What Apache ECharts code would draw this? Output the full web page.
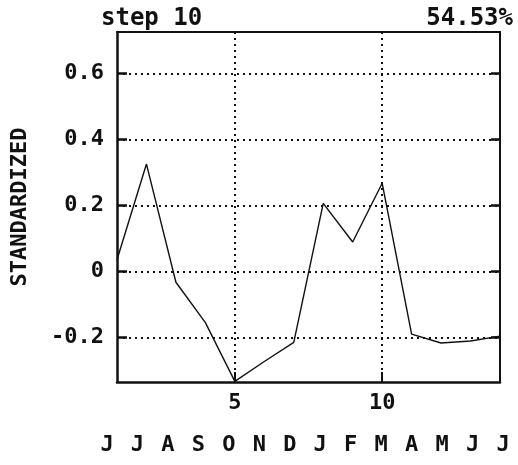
<!DOCTYPE html>
<html>
<head>
<meta charset="utf-8">
<script src="https://cdn.jsdelivr.net/npm/echarts@6/dist/echarts.min.js"></script>
<style>
  html, body { margin: 0; padding: 0; background: #fff; }
  #chart { width: 518px; height: 465px; }
</style>
</head>
<body>
<div id="chart"></div>
<script>
// Standardized series for one step, indexed by month position 1..14
const steps = [1, 2, 3, 4, 5, 6, 7, 8, 9, 10, 11, 12, 13, 14];
const values = [0.035, 0.325, -0.033, -0.155, -0.333, -0.273, -0.215, 0.206, 0.089, 0.267, -0.19, -0.217, -0.211, -0.196];
const months = ['J', 'J', 'A', 'S', 'O', 'N', 'D', 'J', 'F', 'M', 'A', 'M', 'J', 'J'];
const xTicks = [5, 10];
const yTicks = [-0.2, 0, 0.2, 0.4, 0.6];
const titleLeft = 'step 10';
const titleRight = '54.53%';
const yName = 'STANDARDIZED';

const FONT = '"DejaVu Sans Mono", "Liberation Mono", monospace';
const INK = '#111';

const chart = echarts.init(document.getElementById('chart'), null, { renderer: 'canvas' });

const frame = { show: true, onZero: false, lineStyle: { color: INK, width: 2.5 } };
const thinFrame = { show: true, onZero: false, lineStyle: { color: INK, width: 2 } };
const dotted = { show: true, lineStyle: { color: INK, width: 2, type: [2, 4] } };

chart.setOption({
  backgroundColor: '#fff',
  animation: false,
  title: [
    { text: titleLeft, left: 96, top: 2,
      textStyle: { fontFamily: FONT, fontSize: 24, fontWeight: 'bold', color: INK } },
    { text: titleRight, right: 0, top: 2,
      textStyle: { fontFamily: FONT, fontSize: 24, fontWeight: 'bold', color: INK } }
  ],
  grid: [
    { left: 117, right: 18, top: 32, bottom: 83 },
    { left: 107, right: 15, top: 420, height: 1 }
  ],
  xAxis: [
    {
      type: 'value', gridIndex: 0, position: 'bottom', min: 1, max: 14,
      axisLine: frame,
      axisTick: { show: true, inside: true, length: 10, customValues: xTicks,
                  lineStyle: { color: INK, width: 2 } },
      axisLabel: { customValues: xTicks, margin: 10,
                   fontFamily: FONT, fontSize: 22, fontWeight: 'bold', color: INK },
      splitLine: dotted
    },
    {
      type: 'value', gridIndex: 0, position: 'top', min: 1, max: 14,
      axisLine: thinFrame,
      axisTick: { show: false }, axisLabel: { show: false }, splitLine: { show: false }
    },
    {
      type: 'value', gridIndex: 1, min: 0, max: 13, interval: 1,
      axisLine: { show: false }, axisTick: { show: false }, splitLine: { show: false },
      axisLabel: { margin: 13, fontFamily: FONT, fontSize: 22, fontWeight: 'bold', color: INK,
                   formatter: v => months[v] || '' }
    }
  ],
  yAxis: [
    {
      type: 'value', gridIndex: 0, position: 'left', min: -0.335, max: 0.725,
      name: yName, nameLocation: 'middle', nameRotate: 90, nameGap: 86,
      nameTextStyle: { fontFamily: FONT, fontSize: 22, fontWeight: 'bold', color: INK },
      axisLine: frame,
      axisTick: { show: true, inside: true, length: 10, customValues: yTicks,
                  lineStyle: { color: INK, width: 2.5 } },
      axisLabel: { customValues: yTicks, margin: 13,
                   fontFamily: FONT, fontSize: 22, fontWeight: 'bold', color: INK,
                   formatter: v => (Math.abs(v) < 1e-9 ? '0' : v.toFixed(1)) },
      splitLine: dotted
    },
    {
      type: 'value', gridIndex: 0, position: 'right', min: -0.335, max: 0.725,
      axisLine: thinFrame,
      axisTick: { show: true, inside: true, length: 9, customValues: yTicks,
                  lineStyle: { color: INK, width: 2.5 } },
      axisLabel: { show: false }, splitLine: { show: false }
    },
    {
      type: 'value', gridIndex: 1, show: false
    }
  ],
  series: [
    {
      type: 'line', xAxisIndex: 0, yAxisIndex: 0,
      data: steps.map((s, i) => [s, values[i]]),
      symbol: 'none', clip: false,
      lineStyle: { color: INK, width: 1.4 }
    }
  ]
});
</script>
</body>
</html>
